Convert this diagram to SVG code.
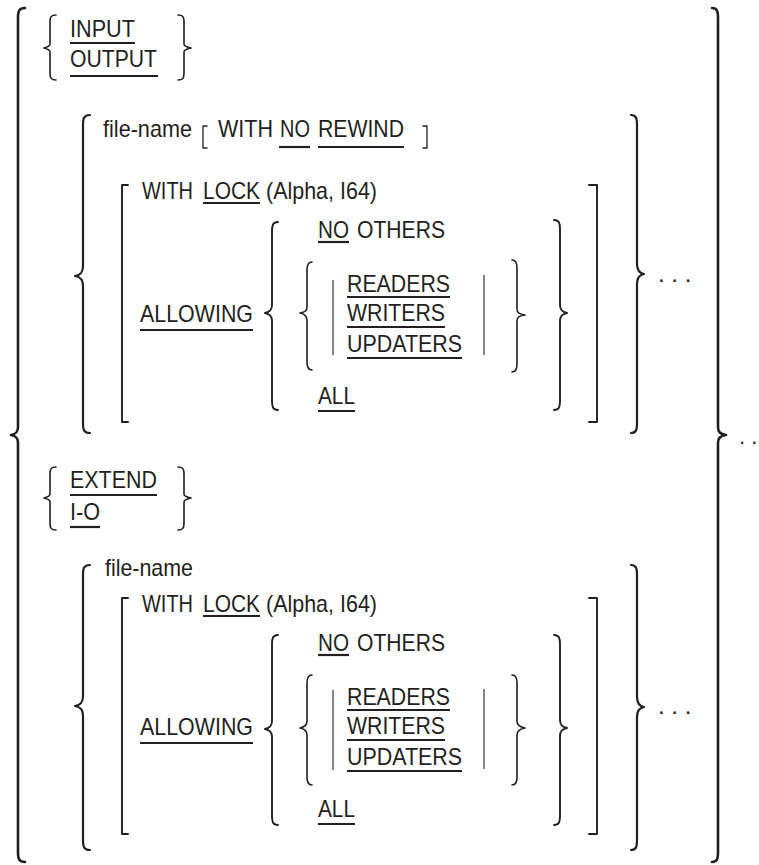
<svg xmlns="http://www.w3.org/2000/svg" width="759" height="865" viewBox="0 0 759 865">
<style>
  text { font-family: "Liberation Sans", Arial, sans-serif; font-size: 24px; fill: #231f20; }
  .br { fill: none; stroke: #231f20; stroke-linecap: round; stroke-linejoin: round; }
  .b1 { stroke-width: 2.6; }
  .b2 { stroke-width: 2.2; }
  .b3 { stroke-width: 1.9; }
  .b4 { stroke-width: 1.6; }
  .ul { stroke: #231f20; stroke-width: 2.2; }
  .bar { stroke: #231f20; stroke-width: 1.1; }
</style>
<rect width="759" height="865" fill="#ffffff"/>

<g id="outer">
  <path class="br b1" d="M25,8 C19,8 18,11 18,18 L18,427 C18,432 16,434 11,435 C16,436 18,438 18,443 L18,852 C18,859 19,862 25,862"/>
  <path class="br b1" d="M712,8 C717,8 718,11 718,18 L718,427 C718,432 720,434 726,435 C720,436 718,438 718,443 L718,852 C718,859 717,862 712,862"/>
  <text x="739" y="444" style="font-size:22px">. .</text>
</g>

<g id="input-output">
  <path class="br b4" d="M56,15 C51,15 50,17 50,22 L50,44 C50,46 48,47 44,48 C48,49 50,50 50,52 L50,73 C50,78 51,80 56,80"/>
  <path class="br b4" d="M178,15 C183,15 184,17 184,22 L184,44 C184,46 186,47 191,48 C186,49 184,50 184,52 L184,73 C184,78 183,80 178,80"/>
  <text x="70" y="37" textLength="65" lengthAdjust="spacingAndGlyphs">INPUT</text>
  <line class="ul" x1="70" y1="43" x2="135" y2="43"/>
  <text x="70" y="67" textLength="87" lengthAdjust="spacingAndGlyphs">OUTPUT</text>
  <line class="ul" x1="70" y1="76" x2="158" y2="76"/>
</g>

<g id="group1">
  <path class="br b2" d="M90,115 C84,115 83,118 83,125 L83,266 C83,272 81,275 75,276 C81,277 83,280 83,286 L83,423 C83,430 84,433 90,433"/>
  <path class="br b2" d="M631,115 C636,115 637,118 637,125 L637,264 C637,270 639,273 644,274 C639,275 637,278 637,284 L637,423 C637,430 636,433 631,433"/>
  <text x="658" y="282">. . .</text>

  <text x="103" y="137" textLength="89" lengthAdjust="spacingAndGlyphs">file-name</text>
  <path class="br" stroke-width="1.3" d="M207,126 L203,126 L203,148 L207,148"/>
  <text x="218" y="137" textLength="55" lengthAdjust="spacingAndGlyphs">WITH</text>
  <text x="280" y="137" textLength="30" lengthAdjust="spacingAndGlyphs">NO</text>
  <line class="ul" x1="279" y1="147" x2="310" y2="147"/>
  <text x="318" y="137" textLength="86" lengthAdjust="spacingAndGlyphs">REWIND</text>
  <line class="ul" x1="318" y1="147" x2="404" y2="147"/>
  <path class="br" stroke-width="1.3" d="M423,126 L427,126 L427,148 L423,148"/>

  <path class="br b3" d="M128,185 L122,185 L122,422 L128,422"/>
  <path class="br b3" d="M589,185 L597,185 L597,422 L589,422"/>
  <text x="142" y="199" textLength="51" lengthAdjust="spacingAndGlyphs">WITH</text>
  <text x="203" y="199" textLength="57" lengthAdjust="spacingAndGlyphs">LOCK</text>
  <line class="ul" x1="203" y1="203" x2="260" y2="203"/>
  <text x="266" y="199" textLength="111" lengthAdjust="spacingAndGlyphs">(Alpha, I64)</text>

  <text x="140" y="322" textLength="113" lengthAdjust="spacingAndGlyphs">ALLOWING</text>
  <line class="ul" x1="140" y1="330" x2="253" y2="330"/>

  <path class="br b3" d="M278,222 C273,222 272,225 272,231 L272,305 C272,310 270,312 265,313 C270,314 272,316 272,321 L272,401 C272,407 273,410 278,410"/>
  <path class="br b3" d="M554,220 C559,220 560,223 560,229 L560,305 C560,310 562,312 567,313 C562,314 560,316 560,321 L560,401 C560,407 559,410 554,410"/>

  <text x="318" y="238" textLength="31" lengthAdjust="spacingAndGlyphs">NO</text>
  <line class="ul" x1="318" y1="242" x2="349" y2="242"/>
  <text x="357" y="238" textLength="88" lengthAdjust="spacingAndGlyphs">OTHERS</text>

  <path class="br b4" d="M312,262 C308,262 307,265 307,270 L307,307 C307,311 305,312 300,313 C305,314 307,316 307,320 L307,362 C307,367 308,370 312,370"/>
  <path class="br b4" d="M512,260 C516,260 517,263 517,268 L517,309 C517,313 519,314 525,315 C519,316 517,317 517,321 L517,364 C517,369 516,372 512,372"/>
  <line class="bar" x1="333" y1="280" x2="333" y2="355"/>
  <line class="bar" x1="484" y1="275" x2="484" y2="355"/>
  <text x="347" y="292" textLength="103" lengthAdjust="spacingAndGlyphs">READERS</text>
  <line class="ul" x1="347" y1="297" x2="450" y2="297"/>
  <text x="347" y="321" textLength="98" lengthAdjust="spacingAndGlyphs">WRITERS</text>
  <line class="ul" x1="347" y1="327" x2="445" y2="327"/>
  <text x="347" y="352" textLength="115" lengthAdjust="spacingAndGlyphs">UPDATERS</text>
  <line class="ul" x1="347" y1="358" x2="462" y2="358"/>

  <text x="318" y="404" textLength="37" lengthAdjust="spacingAndGlyphs">ALL</text>
  <line class="ul" x1="318" y1="411" x2="355" y2="411"/>
</g>

<g id="extend-io">
  <path class="br b4" d="M56,467 C51,467 50,469 50,474 L50,494 C50,496 48,497 44,498 C48,499 50,500 50,502 L50,523 C50,528 51,530 56,530"/>
  <path class="br b4" d="M178,467 C183,467 184,469 184,474 L184,494 C184,496 186,497 191,498 C186,499 184,500 184,502 L184,523 C184,528 183,530 178,530"/>
  <text x="70" y="488" textLength="87" lengthAdjust="spacingAndGlyphs">EXTEND</text>
  <line class="ul" x1="70" y1="495" x2="157" y2="495"/>
  <text x="70" y="520" textLength="30" lengthAdjust="spacingAndGlyphs">I-O</text>
  <line class="ul" x1="70" y1="527" x2="100" y2="527"/>
</g>

<g id="group2">
  <path class="br b2" d="M90,565 C84,565 83,568 83,575 L83,696 C83,702 81,705 75,706 C81,707 83,710 83,716 L83,840 C83,847 84,850 90,850"/>
  <path class="br b2" d="M631,565 C636,565 637,568 637,575 L637,697 C637,703 639,706 644,707 C639,708 637,711 637,717 L637,840 C637,847 636,850 631,850"/>
  <text x="658" y="714">. . .</text>

  <text x="105" y="576" textLength="88" lengthAdjust="spacingAndGlyphs">file-name</text>

  <path class="br b3" d="M128,598 L122,598 L122,834 L128,834"/>
  <path class="br b3" d="M589,598 L597,598 L597,834 L589,834"/>
  <text x="142" y="612" textLength="51" lengthAdjust="spacingAndGlyphs">WITH</text>
  <text x="203" y="612" textLength="57" lengthAdjust="spacingAndGlyphs">LOCK</text>
  <line class="ul" x1="203" y1="616" x2="260" y2="616"/>
  <text x="266" y="612" textLength="111" lengthAdjust="spacingAndGlyphs">(Alpha, I64)</text>

  <text x="140" y="735" textLength="113" lengthAdjust="spacingAndGlyphs">ALLOWING</text>
  <line class="ul" x1="140" y1="743" x2="253" y2="743"/>

  <path class="br b3" d="M278,635 C273,635 272,638 272,644 L272,721 C272,726 270,728 265,729 C270,730 272,732 272,737 L272,816 C272,822 273,825 278,825"/>
  <path class="br b3" d="M554,635 C559,635 560,638 560,644 L560,720 C560,725 562,727 567,728 C562,729 560,731 560,736 L560,816 C560,822 559,825 554,825"/>

  <text x="318" y="651" textLength="31" lengthAdjust="spacingAndGlyphs">NO</text>
  <line class="ul" x1="318" y1="655" x2="349" y2="655"/>
  <text x="357" y="651" textLength="88" lengthAdjust="spacingAndGlyphs">OTHERS</text>

  <path class="br b4" d="M312,675 C308,675 307,678 307,683 L307,721 C307,725 305,727 300,728 C305,729 307,731 307,735 L307,777 C307,782 308,785 312,785"/>
  <path class="br b4" d="M512,675 C516,675 517,678 517,683 L517,721 C517,725 519,727 525,728 C519,729 517,731 517,735 L517,777 C517,782 516,785 512,785"/>
  <line class="bar" x1="333" y1="690" x2="333" y2="770"/>
  <line class="bar" x1="484" y1="689" x2="484" y2="769"/>
  <text x="347" y="705" textLength="103" lengthAdjust="spacingAndGlyphs">READERS</text>
  <line class="ul" x1="347" y1="710" x2="450" y2="710"/>
  <text x="347" y="734" textLength="98" lengthAdjust="spacingAndGlyphs">WRITERS</text>
  <line class="ul" x1="347" y1="740" x2="445" y2="740"/>
  <text x="347" y="765" textLength="115" lengthAdjust="spacingAndGlyphs">UPDATERS</text>
  <line class="ul" x1="347" y1="771" x2="462" y2="771"/>

  <text x="318" y="817" textLength="37" lengthAdjust="spacingAndGlyphs">ALL</text>
  <line class="ul" x1="318" y1="824" x2="355" y2="824"/>
</g>
</svg>
